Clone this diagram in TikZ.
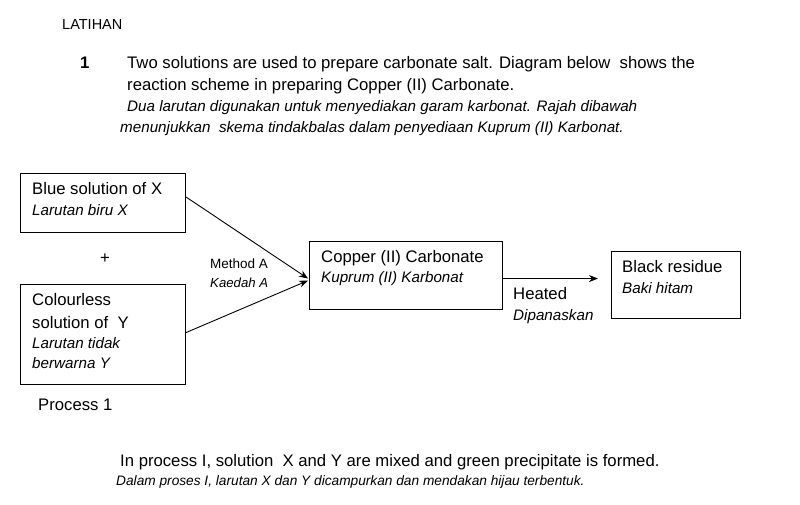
\documentclass[tikz,border=0pt]{standalone}
\usepackage{fontspec}
\setmainfont{Liberation Sans}
\usetikzlibrary{arrows.meta,calc}
\newcommand\regsz{\fontsize{16.7}{19}\selectfont}
\newcommand\itsz{\fontsize{15.2}{17}\selectfont\itshape}
\begin{document}
\begin{tikzpicture}[x=1pt,y=-1pt,
  txt/.style={anchor=base west,inner sep=0pt,font=\regsz},
  itx/.style={anchor=base west,inner sep=0pt,font=\itsz},
  box/.style={draw=black,line width=1.1pt,anchor=north west,inner sep=0pt},
  conn/.style={line width=0.9pt,-{Stealth[length=9pt,width=7pt]}}]
\useasboundingbox[fill=white] (0,0) rectangle (800,505);
% header
\node[txt,font=\fontsize{14.5}{16}\selectfont] (lat) at (62,30) {LATIHAN};
\node[txt,font=\regsz\bfseries] (num) at (80,69) {1};
\node[txt] (l1) at (127,69) {Two solutions are used to prepare carbonate salt. Diagram below\ \ shows the};
\node[txt] (l2) at (127,91) {reaction scheme in preparing Copper (II) Carbonate.};
\node[itx] (l3) at (127,112) {Dua larutan digunakan untuk menyediakan garam karbonat. Rajah dibawah};
\node[itx] (l4) at (120,133) {menunjukkan\ \ skema tindakbalas dalam penyediaan Kuprum (II) Karbonat.};
% boxes
\node[box,minimum width=165pt,minimum height=59pt] (b1) at (20,173) {};
\node[box,minimum width=165pt,minimum height=100pt] (b2) at (20,284) {};
\node[box,minimum width=193pt,minimum height=68pt] (cu) at (309,241) {};
\node[box,minimum width=129pt,minimum height=67pt] (bk) at (611,251) {};
% box texts
\node[txt] (t1a) at (32,195) {Blue solution of X};
\node[itx] (t1b) at (32,215) {Larutan biru X};
\node[txt] (plus) at (100,263) {+};
\node[txt] (t2a) at (32,305) {Colourless};
\node[txt] (t2b) at (32,328) {solution of\ \ Y};
\node[itx] (t2c) at (32,348) {Larutan tidak};
\node[itx] (t2d) at (32,368) {berwarna Y};
\node[txt] (proc) at (38,410) {Process 1};
\node[txt,font=\fontsize{13.5}{16}\selectfont] (ma) at (210,268) {Method A};
\node[itx,font=\fontsize{13.2}{15}\selectfont\itshape] (ka) at (210,287) {Kaedah A};
\node[txt] (cua) at (321,262) {Copper (II) Carbonate};
\node[itx] (cub) at (321,282) {Kuprum (II) Karbonat};
\node[txt] (he) at (513,299) {Heated};
\node[itx] (dp) at (513,320) {Dipanaskan};
\node[txt] (bka) at (622,272) {Black residue};
\node[itx] (bkb) at (622,293) {Baki hitam};
% connectors
\coordinate (hstart) at ($(cu.east)+(0,3)$);
\coordinate (hend) at ($(bk.west)+(-13,0)$);
\draw[conn] ($(b1.east)+(0,-6)$) -- ($(cu.west)+(-1,3)$);
\draw[conn] ($(b2.east)+(0,-2)$) -- ($(cu.west)+(-1,5)$);
\draw[conn] (hstart) -- (hstart -| hend);
% bottom
\node[txt] (bt1) at (120,466) {In process I, solution\ \ X and Y are mixed and green precipitate is formed.};
\node[itx,font=\fontsize{13.7}{16}\selectfont\itshape] (bt2) at (116,485) {Dalam proses I, larutan X dan Y dicampurkan dan mendakan hijau terbentuk.};
\end{tikzpicture}
\end{document}
